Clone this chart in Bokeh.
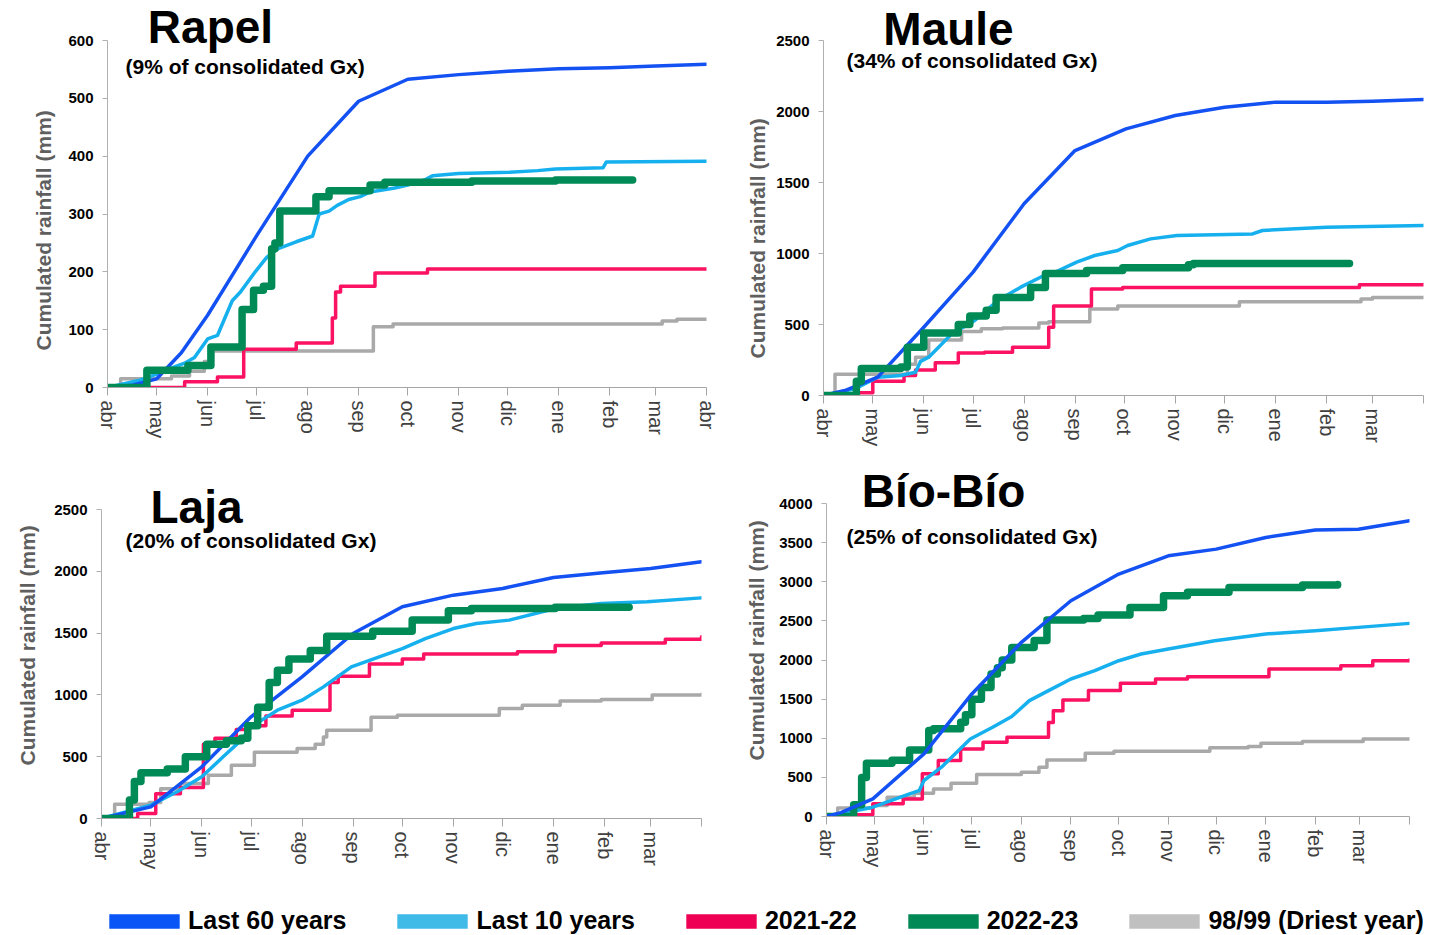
from bokeh.plotting import figure
from bokeh.models import Range1d, FixedTicker, Label, Legend, LegendItem, Title
from bokeh.layouts import column, row
from bokeh.embed import file_html
from bokeh.resources import INLINE

FONT = "Liberation Sans"

# ---------------- shared axis data ----------------
MONTH_START = [0, 30, 61, 91, 122, 153, 183, 214, 244, 275, 306, 334, 365]
MONTH_LABELS = ["abr", "may", "jun", "jul", "ago", "sep", "oct", "nov", "dic", "ene", "feb", "mar", "abr"]

SERIES_NAMES = ["Last 60 years", "Last 10 years", "2021-22", "2022-23", "98/99 (Driest year)"]
LINE_COLORS = ["#1351f3", "#16b0ef", "#fb1262", "#008a56", "#a9a9a9"]
LEGEND_COLORS = ["#0a55f5", "#40bbe8", "#ee0055", "#008855", "#c0c0c0"]

# ---------------- Rapel ----------------
rapel_60_day = [0, 9, 15, 30, 45, 61, 91, 122, 153, 183, 214, 244, 275, 306, 334, 365]
rapel_60_mm = [0, 2, 4, 15, 60, 125, 263, 400, 495, 533, 541, 547, 551, 553, 556, 559]
rapel_10_day = [0, 19, 30, 42, 47, 53, 61, 67, 76, 81, 90, 97, 104, 115, 125, 129, 135, 140, 147, 154, 160, 175, 183, 194, 198, 214, 245, 262, 273, 302, 304, 365]
rapel_10_mm = [0, 12, 23, 37, 42, 52, 84, 90, 150, 165, 200, 225, 240, 252, 262, 300, 305, 315, 325, 330, 338, 345, 350, 360, 366, 370, 372, 375, 378, 380, 390, 391]
rapel_21_day = [0, 47, 67, 83, 115, 137, 139, 142, 163, 195, 365]
rapel_21_mm = [0, 10, 18, 66, 77, 120, 165, 175, 198, 205, 205]
rapel_22_day = [0, 24, 49, 63, 82, 89, 95, 100, 102, 105, 127, 135, 160, 169, 222, 273, 320]
rapel_22_mm = [0, 30, 38, 70, 135, 168, 175, 240, 250, 305, 330, 340, 350, 355, 357, 359, 359]
rapel_98_day = [0, 8, 39, 50, 59, 64, 162, 174, 338, 347, 365]
rapel_98_mm = [0, 15, 20, 28, 45, 63, 105, 110, 115, 118, 118]

# ---------------- Maule ----------------
maule_60_day = [0, 13, 33, 61, 91, 122, 153, 184, 214, 244, 275, 306, 334, 365]
maule_60_mm = [0, 35, 129, 481, 869, 1350, 1725, 1878, 1972, 2030, 2066, 2066, 2073, 2085]
maule_10_day = [0, 19, 33, 47, 56, 59, 64, 70, 78, 92, 106, 120, 132, 143, 154, 165, 179, 185, 199, 215, 261, 267, 306, 365]
maule_10_mm = [0, 47, 129, 141, 164, 240, 270, 340, 434, 528, 669, 763, 833, 880, 939, 986, 1021, 1056, 1103, 1127, 1138, 1162, 1185, 1197]
maule_21_day = [0, 20, 30, 49, 56, 68, 82, 98, 115, 137, 140, 163, 182, 326, 365]
maule_21_mm = [0, 20, 100, 140, 180, 230, 300, 305, 340, 480, 630, 750, 760, 780, 780]
maule_22_day = [0, 20, 23, 47, 51, 61, 82, 89, 99, 105, 126, 135, 160, 182, 222, 225, 320]
maule_22_mm = [0, 100, 190, 200, 340, 440, 500, 560, 600, 690, 760, 860, 880, 900, 920, 930, 930]
maule_98_day = [0, 7, 51, 56, 64, 84, 96, 109, 131, 137, 162, 179, 253, 327, 334, 365]
maule_98_mm = [0, 150, 220, 270, 390, 450, 470, 475, 510, 520, 610, 630, 660, 680, 690, 690]

# ---------------- Laja ----------------
laja_60_day = [0, 30, 61, 91, 122, 153, 183, 214, 244, 275, 305, 334, 365]
laja_60_mm = [0, 94, 418, 823, 1146, 1497, 1713, 1807, 1861, 1950, 1988, 2023, 2077]
laja_10_day = [0, 30, 46, 61, 74, 85, 91, 107, 122, 135, 152, 166, 183, 197, 214, 228, 248, 276, 304, 332, 365]
laja_10_mm = [0, 108, 216, 337, 499, 634, 742, 876, 957, 1065, 1227, 1294, 1375, 1456, 1537, 1578, 1605, 1699, 1740, 1753, 1785]
laja_21_day = [0, 22, 33, 48, 62, 69, 82, 90, 100, 116, 139, 144, 163, 183, 196, 253, 276, 304, 343, 365]
laja_21_mm = [0, 40, 200, 250, 600, 650, 720, 750, 830, 875, 1100, 1150, 1250, 1290, 1330, 1350, 1400, 1420, 1450, 1470]
laja_22_day = [0, 17, 20, 24, 40, 51, 64, 76, 85, 89, 95, 102, 107, 114, 127, 137, 165, 189, 211, 225, 276, 321]
laja_22_mm = [0, 150, 300, 370, 400, 500, 600, 630, 650, 750, 900, 1100, 1200, 1290, 1360, 1475, 1515, 1605, 1680, 1700, 1710, 1710]
laja_98_day = [0, 8, 29, 36, 48, 65, 79, 93, 119, 130, 135, 137, 164, 180, 242, 256, 279, 304, 335, 365]
laja_98_mm = [0, 115, 130, 240, 283, 350, 431, 535, 566, 600, 660, 715, 820, 836, 890, 917, 950, 963, 1000, 1006]

# ---------------- Bio-Bio ----------------
bio_60_day = [0, 9, 29, 61, 91, 122, 153, 183, 214, 244, 275, 306, 333, 365]
bio_60_mm = [0, 50, 226, 800, 1566, 2226, 2757, 3098, 3332, 3417, 3566, 3660, 3672, 3779]
bio_10_day = [0, 29, 52, 58, 61, 72, 90, 104, 116, 127, 139, 153, 168, 183, 197, 214, 243, 275, 306, 333, 365]
bio_10_mm = [0, 119, 289, 330, 460, 630, 991, 1140, 1277, 1481, 1609, 1757, 1864, 1991, 2077, 2140, 2247, 2332, 2374, 2417, 2468]
bio_21_day = [0, 8, 29, 48, 60, 70, 84, 98, 113, 139, 142, 148, 164, 184, 206, 226, 277, 322, 342, 365]
bio_21_mm = [0, 21, 162, 225, 545, 715, 864, 949, 1013, 1200, 1353, 1489, 1609, 1702, 1757, 1787, 1885, 1928, 1991, 2000]
bio_22_day = [0, 17, 22, 25, 41, 52, 64, 67, 84, 87, 91, 97, 103, 107, 110, 116, 130, 138, 161, 170, 190, 211, 226, 252, 298, 320]
bio_22_mm = [0, 150, 500, 680, 720, 850, 1098, 1120, 1204, 1300, 1500, 1650, 1820, 1900, 2000, 2160, 2250, 2510, 2530, 2575, 2670, 2820, 2865, 2928, 2960, 2965]
bio_98_day = [0, 7, 29, 38, 55, 67, 78, 94, 122, 133, 138, 162, 180, 240, 264, 272, 298, 336, 365]
bio_98_mm = [0, 110, 140, 247, 298, 353, 425, 536, 566, 630, 723, 808, 834, 877, 894, 936, 957, 991, 995]

# y-axis ticks
rapel_yticks = [0, 100, 200, 300, 400, 500, 600]
maule_yticks = [0, 500, 1000, 1500, 2000, 2500]
laja_yticks = [0, 500, 1000, 1500, 2000, 2500]
bio_yticks = [0, 500, 1000, 1500, 2000, 2500, 3000, 3500, 4000]

TITLES = ["Rapel", "Maule", "Laja", "Bío-Bío"]
SUBTITLES = ["(9% of consolidated Gx)", "(34% of consolidated Gx)",
             "(20% of consolidated Gx)", "(25% of consolidated Gx)"]
YLABEL = "Cumulated rainfall (mm)"


def make_chart(series, yticks, title, subtitle, last_label, geo, order):
    # geo: figure size, borders, pixel height of the axis span, label placements
    W, H, bl, br, bb, axis_px, title_xy, sub_xy, ylab_offset, ylab_standoff = geo
    frame_h = H - bb
    ytop = yticks[-1] * frame_h / axis_px   # frame reaches the canvas top, axis stops at last tick
    p = figure(width=W, height=H, x_range=Range1d(0, 365), y_range=Range1d(0, ytop),
               output_backend="svg", toolbar_location=None, title=None,
               min_border_left=bl, min_border_right=br, min_border_top=0, min_border_bottom=bb)
    p.outline_line_color = None
    p.grid.visible = False
    p.background_fill_color = "white"
    p.border_fill_color = "white"

    overrides = {d: m for d, m in zip(MONTH_START, MONTH_LABELS)}
    if not last_label:
        overrides[MONTH_START[-1]] = ""
    xa = p.xaxis[0]
    xa.ticker = FixedTicker(ticks=MONTH_START)
    xa.major_label_overrides = overrides
    xa.major_label_orientation = "vertical"
    xa.major_label_text_font = FONT
    xa.major_label_text_font_size = "20px"
    xa.major_label_text_color = "#404040"
    xa.major_label_standoff = 5
    xa.major_tick_in = 0
    xa.major_tick_out = 8
    xa.minor_tick_line_color = None
    xa.axis_line_color = "#a6a6a6"
    xa.major_tick_line_color = "#a6a6a6"

    ya = p.yaxis[0]
    ya.ticker = FixedTicker(ticks=yticks)
    ya.bounds = (yticks[0], yticks[-1])
    ya.major_label_text_font = FONT
    ya.major_label_text_font_size = "15px"
    ya.major_label_text_font_style = "bold"
    ya.major_label_text_color = "black"
    ya.major_label_standoff = 9
    ya.major_tick_in = 0
    ya.major_tick_out = 5
    ya.minor_tick_line_color = None
    ya.axis_line_color = "#b0b0b0"
    ya.major_tick_line_color = "#b0b0b0"

    for idx in order:
        days, mm, kind = series[idx]
        color = LINE_COLORS[idx]
        lw = 7.5 if idx == 3 else 3.5
        if kind == "step":
            p.step(days, mm, mode="after", line_color=color, line_width=lw,
                   line_join="round", line_cap="round")
        else:
            p.line(days, mm, line_color=color, line_width=lw, line_join="round", line_cap="round")

    p.add_layout(Label(x=title_xy[0], y=title_xy[1], x_units="screen", y_units="screen",
                       text=title, text_font=FONT, text_font_size="46px", text_font_style="bold",
                       text_color="black", text_align="center", text_baseline="alphabetic"))
    p.add_layout(Label(x=sub_xy[0], y=sub_xy[1], x_units="screen", y_units="screen",
                       text=subtitle, text_font=FONT, text_font_size="21px", text_font_style="bold",
                       text_color="black", text_align="left", text_baseline="alphabetic"))
    p.add_layout(Title(text=YLABEL, align="left", offset=ylab_offset, standoff=ylab_standoff,
                       vertical_align="middle", text_font=FONT, text_font_size="21px",
                       text_font_style="bold", text_color="#5f5f5f"), "left")
    return p


ORDER_A = [4, 2, 1, 0, 3]
ORDER_B = [4, 2, 1, 3, 0]

# frame bottoms: Rapel 387, Maule 395 (row 0..458); Laja 818, Bio 816 (row 458..882)
p1 = make_chart(
    [(rapel_60_day, rapel_60_mm, "line"), (rapel_10_day, rapel_10_mm, "line"),
     (rapel_21_day, rapel_21_mm, "step"), (rapel_22_day, rapel_22_mm, "step"),
     (rapel_98_day, rapel_98_mm, "step")],
    rapel_yticks, TITLES[0], SUBTITLES[0], True,
    (728, 450, 107, 22, 63, 347, (103, 361), (18, 321), 37, 20), ORDER_A)
p2 = make_chart(
    [(maule_60_day, maule_60_mm, "line"), (maule_10_day, maule_10_mm, "line"),
     (maule_21_day, maule_21_mm, "step"), (maule_22_day, maule_22_mm, "step"),
     (maule_98_day, maule_98_mm, "step")],
    maule_yticks, TITLES[1], SUBTITLES[1], False,
    (722, 458, 95, 27, 63, 355, (125, 367), (23, 335), 37, 8), ORDER_A)
p3 = make_chart(
    [(laja_60_day, laja_60_mm, "line"), (laja_10_day, laja_10_mm, "line"),
     (laja_21_day, laja_21_mm, "step"), (laja_22_day, laja_22_mm, "step"),
     (laja_98_day, laja_98_mm, "step")],
    laja_yticks, TITLES[2], SUBTITLES[2], False,
    (728, 424, 101, 27, 64, 309, (95, 312), (24, 278), 53, 24), ORDER_A)
p4 = make_chart(
    [(bio_60_day, bio_60_mm, "line"), (bio_10_day, bio_10_mm, "line"),
     (bio_21_day, bio_21_mm, "step"), (bio_22_day, bio_22_mm, "step"),
     (bio_98_day, bio_98_mm, "step")],
    bio_yticks, TITLES[3], SUBTITLES[3], False,
    (722, 422, 98, 41, 64, 313, (117, 326), (20, 280), 56, 16), ORDER_B)

# ---------------- legend strip ----------------
leg = figure(width=1450, height=53, x_range=Range1d(0, 1), y_range=Range1d(0, 1),
             output_backend="svg", toolbar_location=None, min_border=0, title=None,
             x_axis_type=None, y_axis_type=None)
leg.outline_line_color = None
leg.grid.visible = False
items = []
for name, color in zip(SERIES_NAMES, LEGEND_COLORS):
    r = leg.quad(left=[0], right=[0], top=[0], bottom=[0], fill_color=color, line_color=None)
    items.append(LegendItem(label=name, renderers=[r]))
legend = Legend(items=items, orientation="horizontal", location=(100, 0),
                glyph_width=88, glyph_height=18, label_standoff=0, spacing=42,
                padding=0, margin=0, border_line_color=None, background_fill_alpha=0,
                label_text_font=FONT, label_text_font_size="25px", label_text_font_style="bold",
                label_text_color="black", label_height=18, label_text_baseline="middle")
leg.add_layout(legend)

layout = column(row(p1, p2), row(p3, p4), leg)
open("out.html", "w").write(file_html(layout, INLINE))
